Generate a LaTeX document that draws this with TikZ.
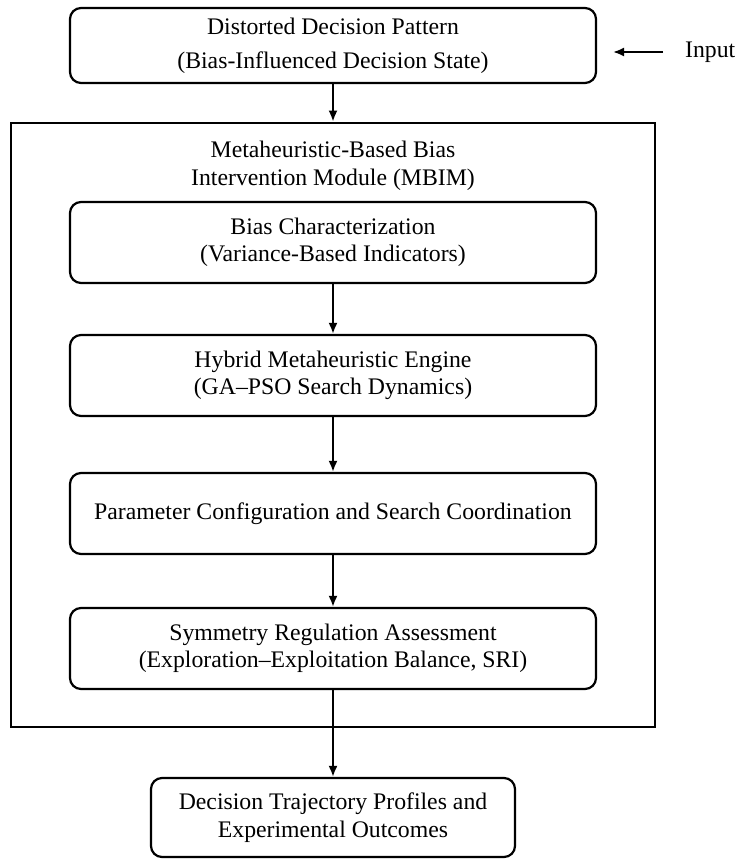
\documentclass[tikz,border=0pt]{standalone}
\usepackage{fontspec}
\setmainfont{Liberation Serif}
\usetikzlibrary{arrows.meta}
\begin{document}
\begin{tikzpicture}[x=1pt,y=-1pt,
  txt/.style={font=\fontsize{23.75}{27.5}\selectfont, align=center, inner sep=0pt},
  rbox/.style={txt, draw, line width=2.2pt, rounded corners=11pt, minimum width=526pt, minimum height=81pt},
  outer/.style={draw, line width=2.8pt, minimum width=644pt, minimum height=604pt, inner sep=0pt},
  arr/.style={line width=2pt, -{Latex[length=11pt,width=9pt]}}
]
\useasboundingbox (0,0) rectangle (736,859);
\node[outer] (big) at (333,425) {};
\node[rbox, minimum height=75pt, font=\fontsize{23.75}{34}\selectfont] (top) at (333,45.5) {Distorted Decision Pattern\\(Bias-Influenced Decision State)};
\node[txt] (title) at (333,166) {Metaheuristic-Based Bias\\Intervention Module (MBIM)};
\node[rbox] (b1) at (333,242.5) {Bias Characterization\\(Variance-Based Indicators)};
\node[rbox] (b2) at (333,375.5) {Hybrid Metaheuristic Engine\\(GA--PSO Search Dynamics)};
\node[rbox] (b3) at (333,513.5) {Parameter Configuration and Search Coordination};
\node[rbox] (b4) at (333,648.5) {Symmetry Regulation Assessment\\(Exploration--Exploitation Balance, SRI)};
\node[rbox, minimum width=364pt, minimum height=79pt] (out) at (333,817.5) {Decision Trajectory Profiles and\\Experimental Outcomes};
\node[txt, anchor=west] (input) at (685,52) {Input};
\coordinate (inTail) at (663,52);
\coordinate (inHead) at (613,52);
\draw[arr] (inTail) -- (inHead);
\draw[arr] (top.south) -- (big.north);
\draw[arr] (b1) -- (b2);
\draw[arr] (b2) -- (b3);
\draw[arr] (b3) -- (b4);
\draw[arr] (b4) -- (out);
\end{tikzpicture}
\end{document}
